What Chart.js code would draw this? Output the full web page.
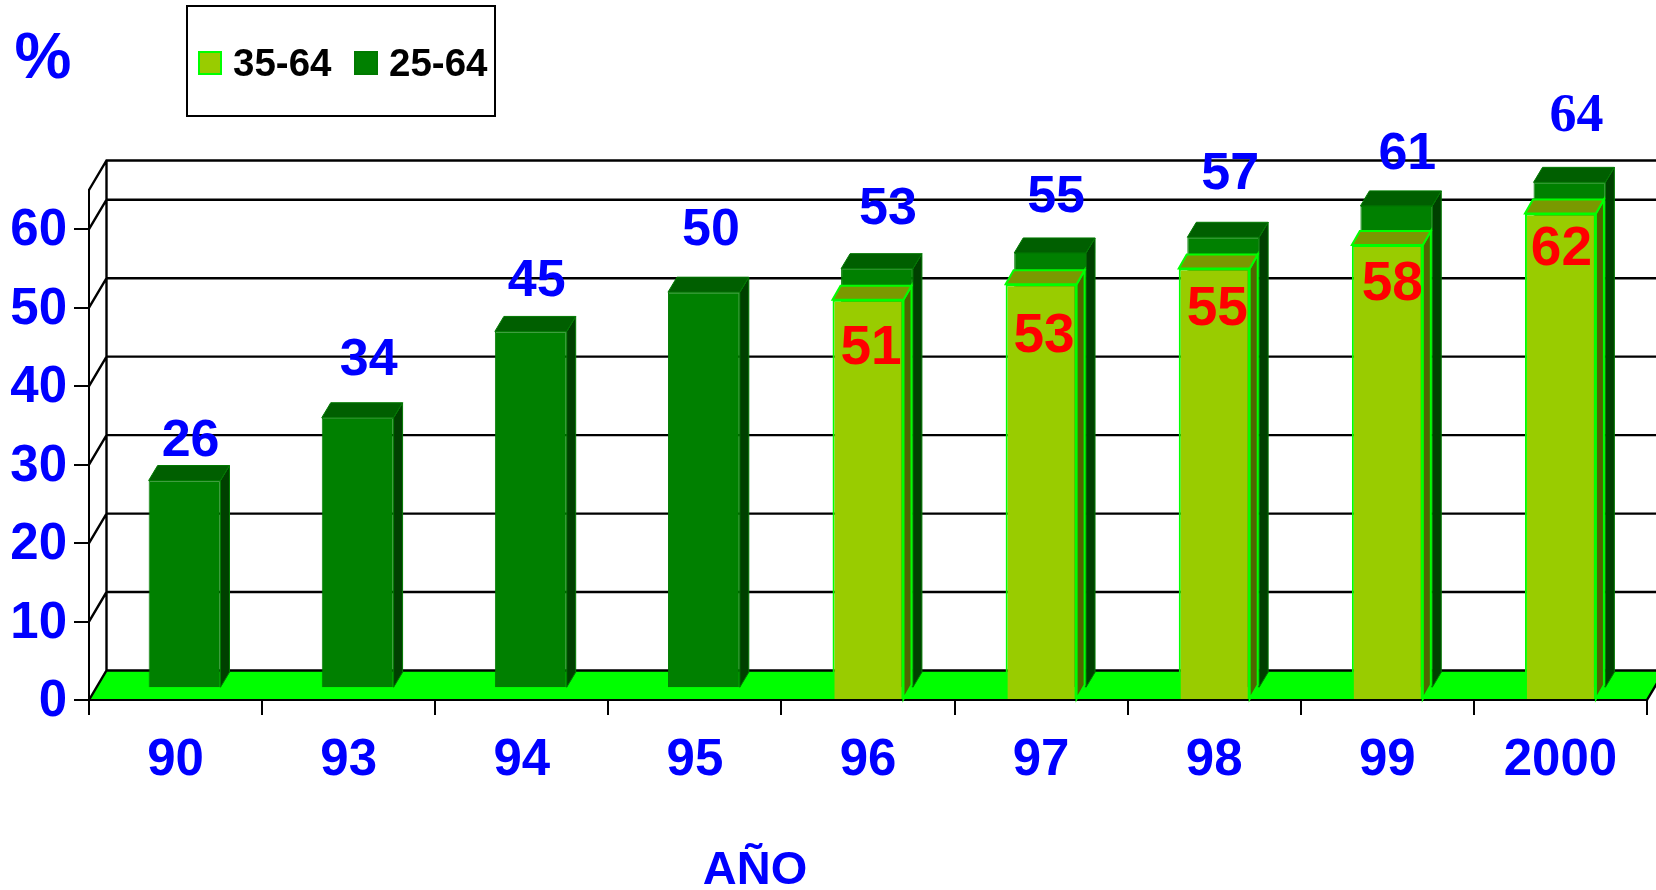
<!DOCTYPE html>
<html lang="es">
<head>
<meta charset="utf-8">
<title>Porcentaje por año</title>
<style>
  html, body { margin: 0; padding: 0; background: #fff; }
  canvas { display: block; }
</style>
<script src="https://cdn.jsdelivr.net/npm/chart.js@4/dist/chart.umd.min.js"></script>
</head>
<body>
<canvas id="chart" width="1656" height="890"></canvas>
<script>
// Chart values
const years = ['90', '93', '94', '95', '96', '97', '98', '99', '2000'];
const ages35to64 = [null, null, null, null, 51, 53, 55, 58, 62];
const ages25to64 = [26, 34, 45, 50, 53, 55, 57, 61, 64];

// Hand placement of the value labels, relative to the bar's top in the front plane
const blueLabelShiftX = [15, 20, 15, 16, 20, 15, 16, 20, 16];
const blueLabelShiftY = [-54, -73, -65, -77, -74, -71, -78, -67, -81];
const redLabelShiftX = [0, 0, 0, 0, 3, 3, 3, 5, 1];
const redLabelShiftY = [0, 0, 0, 0, 49, 53, 41, 40, 36];

// Pseudo-3D geometry, in pixels
const WALL = { dx: 17.5, dy: -29.5 };
const REAR_ROW = { dx: 9, dy: -15.5 };
const SANS = '"Liberation Sans", Arial, sans-serif';
const SERIF = '"Liberation Serif", "Times New Roman", serif';

const looks = [
  { front: '#99CC00', top: '#7A9900', side: '#4F6600', edge: '#00FF00', edgeWidth: 2, dx: 8, dy: -14, shift: { dx: 0, dy: 0 } },
  { front: '#008000', top: '#005F00', side: '#004000', edge: '#007A00', edgeWidth: 1, dx: 9, dy: -15, shift: REAR_ROW }
];

// Walls, floor and gridlines sit behind the axes and the bars
const stage = {
  id: 'stage',
  beforeDraw(chart) {
    const { ctx, chartArea: a, scales: { y } } = chart;
    const zero = y.getPixelForValue(0);
    ctx.save();
    ctx.fillStyle = '#00FF00';
    ctx.beginPath();
    ctx.moveTo(a.left, zero);
    ctx.lineTo(a.left + WALL.dx, zero + WALL.dy);
    ctx.lineTo(a.right + WALL.dx, zero + WALL.dy);
    ctx.lineTo(a.right, zero);
    ctx.closePath();
    ctx.fill();

    ctx.strokeStyle = '#000';
    ctx.lineWidth = 2.4;
    const gridValues = y.ticks.map(t => t.value).concat(y.max);
    ctx.beginPath();
    gridValues.forEach(v => {
      const py = y.getPixelForValue(v);
      ctx.moveTo(a.left, py);
      ctx.lineTo(a.left + WALL.dx, py + WALL.dy);
      ctx.lineTo(chart.width, py + WALL.dy);
    });
    ctx.moveTo(a.left + WALL.dx, y.getPixelForValue(y.max) + WALL.dy);
    ctx.lineTo(a.left + WALL.dx, zero + WALL.dy);
    ctx.moveTo(a.right, zero);
    ctx.lineTo(a.right + WALL.dx, zero + WALL.dy);
    ctx.stroke();
    ctx.restore();
  }
};

// Adds top and side faces to each bar; the rear series is drawn shifted back
const boxes = {
  id: 'boxes',
  beforeDatasetDraw(chart, { index, meta }) {
    const { ctx } = chart;
    const look = looks[index];
    ctx.save();
    ctx.translate(look.shift.dx, look.shift.dy);
    meta.data.forEach((bar, i) => {
      if (chart.data.datasets[index].data[i] === null) return;
      const { x, y, base, width } = bar.getProps(['x', 'y', 'base', 'width']);
      const left = x - width / 2, right = x + width / 2;
      ctx.lineWidth = look.edgeWidth;
      ctx.strokeStyle = look.edge;
      ctx.fillStyle = look.side;
      ctx.beginPath();
      ctx.moveTo(right, y);
      ctx.lineTo(right + look.dx, y + look.dy);
      ctx.lineTo(right + look.dx, base + look.dy);
      ctx.lineTo(right, base);
      ctx.closePath();
      ctx.fill();
      ctx.stroke();
      ctx.fillStyle = look.top;
      ctx.beginPath();
      ctx.moveTo(left, y);
      ctx.lineTo(left + look.dx, y + look.dy);
      ctx.lineTo(right + look.dx, y + look.dy);
      ctx.lineTo(right, y);
      ctx.closePath();
      ctx.fill();
      ctx.stroke();
    });
  },
  afterDatasetDraw(chart) {
    chart.ctx.restore();
  }
};

// Value labels, the legend box and the loose titles
const annotations = {
  id: 'annotations',
  afterDatasetsDraw(chart) {
    const { ctx, scales: { x, y } } = chart;
    ctx.save();
    ctx.textAlign = 'center';
    ctx.textBaseline = 'middle';

    ages25to64.forEach((v, i) => {
      // The last value is set in a serif face
      ctx.font = i === ages25to64.length - 1 ? 'bold 54px ' + SERIF : 'bold 52px ' + SANS;
      ctx.fillStyle = '#0000FF';
      ctx.fillText(String(v), x.getPixelForValue(i) + blueLabelShiftX[i], y.getPixelForValue(v) + blueLabelShiftY[i]);
    });
    ctx.font = 'bold 55px ' + SANS;
    ctx.fillStyle = '#FF0000';
    ages35to64.forEach((v, i) => {
      if (v === null) return;
      ctx.fillText(String(v), x.getPixelForValue(i) + redLabelShiftX[i], y.getPixelForValue(v) + redLabelShiftY[i]);
    });

    ctx.fillStyle = '#0000FF';
    ctx.font = 'bold 64px ' + SANS;
    ctx.fillText('%', 43, 60);
    ctx.font = 'bold 47px ' + SANS;
    ctx.fillText('AÑO', 755, 871);

    ctx.strokeStyle = '#000';
    ctx.lineWidth = 2;
    ctx.strokeRect(187, 6, 308, 110);
    ctx.font = 'bold 38.5px ' + SANS;
    ctx.textAlign = 'left';
    [198, 354].forEach((sx, i) => {
      const ds = chart.data.datasets[i];
      ctx.fillStyle = ds.backgroundColor;
      ctx.fillRect(sx, 51, 24, 24);
      ctx.strokeStyle = ds.borderColor;
      ctx.lineWidth = 2;
      ctx.strokeRect(sx + 1, 52, 22, 22);
      ctx.fillStyle = '#000';
      ctx.fillText(ds.label, sx + 35, 65);
    });
    ctx.restore();
  }
};

new Chart(document.getElementById('chart'), {
  type: 'bar',
  data: {
    labels: years,
    datasets: [
      { label: '35-64', data: ages35to64, barPercentage: 0.41, backgroundColor: looks[0].front, borderColor: looks[0].edge, borderWidth: 2, clip: false },
      // Rear row: its foot reaches slightly below zero so it lands on the floor once shifted back
      { label: '25-64', data: ages25to64, barPercentage: 0.415, base: -0.35, backgroundColor: looks[1].front, borderColor: looks[1].edge, borderWidth: 1, clip: false }
    ]
  },
  plugins: [stage, boxes, annotations],
  options: {
    responsive: false,
    animation: false,
    devicePixelRatio: 1,
    layout: { padding: { top: 190, right: 9, left: 0, bottom: 0 } },
    datasets: { bar: { grouped: false, categoryPercentage: 1 } },
    plugins: { legend: { display: false }, tooltip: { enabled: false } },
    scales: {
      x: {
        offset: true,
        afterFit(s) { s.height = 190; },
        border: { color: '#000', width: 2 },
        grid: { color: '#000', lineWidth: 2, tickLength: 15, drawOnChartArea: false, offset: true, tickColor: '#000' },
        ticks: { color: '#0000FF', font: { family: SANS, size: 51, weight: 'bold' }, padding: 15, maxRotation: 0, autoSkip: false }
      },
      y: {
        min: 0,
        max: 65,
        afterFit(s) { s.width = 89; },
        border: { color: '#000', width: 2 },
        grid: { color: '#000', lineWidth: 2, tickLength: 15, drawOnChartArea: false, tickColor: '#000' },
        ticks: { stepSize: 10, includeBounds: false, color: '#0000FF', font: { family: SANS, size: 51, weight: 'bold' }, padding: 7, labelOffset: 2 }
      }
    }
  }
});
</script>
</body>
</html>
